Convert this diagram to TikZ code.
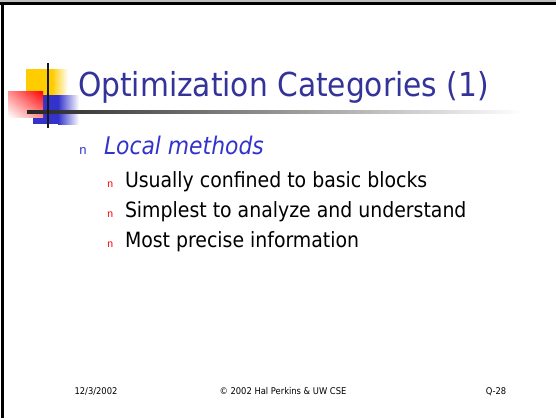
\documentclass[tikz,border=0pt]{standalone}
\usepackage{fontspec}
\usetikzlibrary{shadings}
\setmainfont{DejaVu Sans Condensed}
\newfontfamily\bulletfont{Liberation Mono}
\definecolor{titleblue}{HTML}{333399}
\definecolor{itemblue}{HTML}{3333CC}
\definecolor{logoyellow}{HTML}{FFCC00}
\definecolor{logoblue}{HTML}{3333CC}
\definecolor{bulletred}{HTML}{FF0000}
\tikzset{
  txt/.style={anchor=base west, inner sep=0pt, outer sep=0pt},
  titletext/.style={txt, text=titleblue, font=\fontsize{33}{33}\selectfont},
  lvlone/.style={txt, text=itemblue, font=\fontsize{24.3}{24.3}\selectfont\itshape},
  lvltwo/.style={txt, text=black, font=\fontsize{21}{21}\selectfont},
  bulone/.style={txt, text=itemblue, font=\bulletfont\fontsize{13}{13}\selectfont},
  bultwo/.style={txt, text=bulletred, font=\bulletfont\fontsize{10.5}{10.5}\selectfont},
  foot/.style={anchor=base, inner sep=0pt, text=black, font=\fontsize{9.3}{9.3}\selectfont},
}
\begin{document}
\begin{tikzpicture}[x=1pt,y=-1pt]
\useasboundingbox (0,0) rectangle (556,418);
\fill[white] (0,0) rectangle (556,418);
% slide frame
\fill[black!25] (0,0) rectangle (556,1.5);
\fill[black] (0,2) rectangle (556,5);
\fill[black] (0.5,2) rectangle (3.5,418);
% logo squares
\fill[logoyellow] (26,69) rectangle (52,95);
\shade[left color=logoyellow, right color=white] (52,69) rectangle (68,95);
\fill[logoblue] (33,95) rectangle (58,124);
\shade[left color=logoblue, right color=white] (58,95) rectangle (79,124);
\shade[upper right=red, lower left=white, upper left=red!45, lower right=red!45] (8,91) rectangle (43,117);
% logo cross lines
\shade[left color=black!85, right color=white] (27,110.5) rectangle (524,113.5);
\draw[line width=2.2pt, black!90] (48,63) -- (48,128);
% title
\node[titletext] (title) at (78,96) {Optimization Categories (1)};
% bullets
\node[bulone] (b1) at (79,154) {n};
\node[lvlone] (local) at (104,154) {Local methods};
\node[bultwo] (b2) at (107,187) {n};
\node[lvltwo] (i1) at (125,187) {Usually confined to basic blocks};
\node[bultwo] (b3) at (107,217) {n};
\node[lvltwo] (i2) at (125,217) {Simplest to analyze and understand};
\node[bultwo] (b4) at (107,247) {n};
\node[lvltwo] (i3) at (125,247) {Most precise information};
% footer
\node[foot] (date) at (96,394) {12/3/2002};
\node[foot] (copy) at (283,394) {© 2002 Hal Perkins \& UW CSE};
\node[foot] (page) at (496,394) {Q-28};
\end{tikzpicture}
\end{document}
